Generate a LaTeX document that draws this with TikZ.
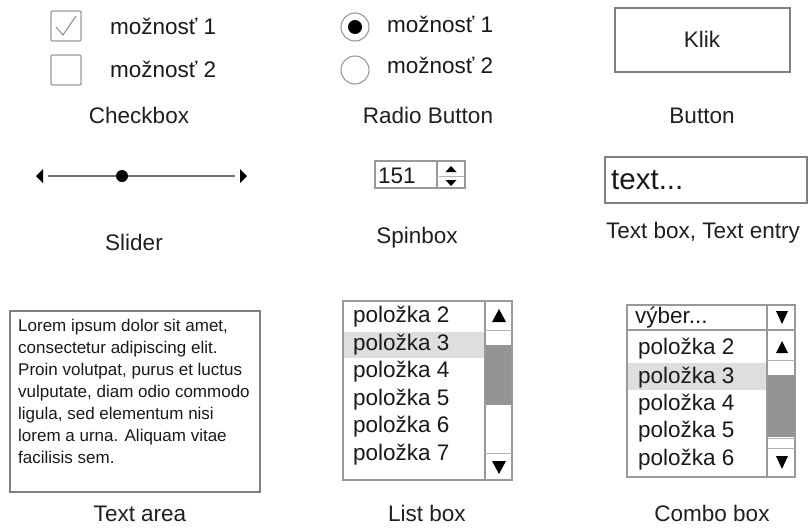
\documentclass[tikz,border=0pt]{standalone}
\usepackage{fontspec}
\setmainfont{Liberation Sans}
\begin{document}
\begin{tikzpicture}[x=1pt,y=-1pt,
  lbl/.style={inner sep=0pt, text=black!88, font=\fontsize{22.5}{25}\selectfont},
  item/.style={inner sep=0pt, text=black!90, font=\fontsize{22.5}{25}\selectfont, anchor=base west},
  frame/.style={draw=black!50, line width=1.3pt},
  lframe/.style={draw=black!40, line width=1.1pt},
  thin/.style={draw=black!30, line width=0.8pt},
  tri/.style={fill=black},
  hl/.style={fill=black!13},
  thumb/.style={fill=black!42}]
\useasboundingbox (0,0) rectangle (810,528);
% ---------- Checkbox ----------
\draw[lframe, rounded corners=1pt] (51,11) rectangle (81,41);
\draw[draw=black!45, line width=1pt] (56,27) -- (63,35) -- (76,16);
\draw[lframe, rounded corners=1pt] (51,55) rectangle (81,85);
\node[item] (cb1) at (110,34) {možnosť 1};
\node[item] (cb2) at (110,77) {možnosť 2};
\node[lbl, anchor=base] (cbl) at (139,123) {Checkbox};
% ---------- Radio ----------
\draw[lframe] (355,27) circle[radius=14pt];
\fill (355,27) circle[radius=7pt];
\draw[lframe] (355,70) circle[radius=14pt];
\node[item] (rb1) at (387,32) {možnosť 1};
\node[item] (rb2) at (387,73) {možnosť 2};
\node[lbl, anchor=base] (rbl) at (428,123) {Radio Button};
% ---------- Button ----------
\draw[frame] (615,8) rectangle (790,72);
\node[lbl, anchor=base] (klik) at (702,47) {Klik};
\node[lbl, anchor=base] (btl) at (702,123) {Button};
% ---------- Slider ----------
\draw[draw=black!55, line width=1.2pt] (48,176) -- (235,176);
\fill (122,176) circle[radius=6pt];
\fill (36,176) -- (43,169) -- (43,183) -- cycle;
\fill (247,176) -- (240,169) -- (240,183) -- cycle;
\node[lbl, anchor=base] (sll) at (134,250) {Slider};
% ---------- Spinbox ----------
\draw[lframe] (375,161) rectangle (465,188);
\draw[lframe] (437,161) -- (437,188);
\draw[thin] (439,176) -- (464,176);
\fill (451,166) -- (445.5,172) -- (456.5,172) -- cycle;
\fill (451,186) -- (445.5,180) -- (456.5,180) -- cycle;
\node[item] (spv) at (378,183) {151};
\node[lbl, anchor=base] (spl) at (417,243) {Spinbox};
% ---------- Text box ----------
\draw[frame] (605,157) rectangle (807,203);
\node[inner sep=0pt, anchor=base west, font=\fontsize{29.5}{32}\selectfont, text=black!90] (tbv) at (611,189) {text...};
\node[lbl, anchor=base] (tbl) at (703,238) {Text box, Text entry};
% ---------- Text area ----------
\draw[frame] (10,311) rectangle (260,492);
\node[inner sep=0pt, anchor=north west, align=left, font=\fontsize{17}{22}\selectfont, text=black!90] (tav) at (18,318.5)
  {Lorem ipsum dolor sit amet,\\consectetur adipiscing elit.\\Proin volutpat, purus et luctus\\vulputate, diam odio commodo\\ligula, sed elementum nisi\\lorem a urna. Aliquam vitae\\facilisis sem.};
\node[lbl, anchor=base] (tal) at (140,521) {Text area};
% ---------- List box ----------
\fill[hl] (343,332) rectangle (485,358);
\fill[thumb] (485,345) rectangle (512,405);
\draw[lframe] (343,301) rectangle (512,480);
\draw[lframe] (485,301) -- (485,480);
\draw[thin] (485,330) -- (512,330);
\draw[thin] (485,453) -- (512,453);
\fill (499,309) -- (492,322) -- (506,322) -- cycle;
\fill (499,474) -- (492,461) -- (506,461) -- cycle;
\node[item] (l2) at (353,322) {položka 2};
\node[item] (l3) at (353,350) {položka 3};
\node[item] (l4) at (353,377) {položka 4};
\node[item] (l5) at (353,405) {položka 5};
\node[item] (l6) at (353,432) {položka 6};
\node[item] (l7) at (353,460) {položka 7};
\node[lbl, anchor=base] (lbl) at (427,521) {List box};
% ---------- Combo box ----------
\fill[hl] (627,363) rectangle (767,390);
\fill[thumb] (767,375) rectangle (795,437);
\draw[lframe] (627,305) rectangle (795,477);
\draw[lframe] (627,330) -- (795,330);
\draw[lframe] (767,305) -- (767,477);
\draw[thin] (767,360) -- (795,360);
\draw[thin] (767,438) -- (795,438);
\draw[thin] (767,448) -- (795,448);
\fill (782,324) -- (776,311) -- (788,311) -- cycle;
\fill (782,341) -- (776,353) -- (788,353) -- cycle;
\fill (782,469) -- (776,456) -- (788,456) -- cycle;
\node[item] (cv) at (635,323) {výber...};
\node[item] (c2) at (638,354) {položka 2};
\node[item] (c3) at (638,383) {položka 3};
\node[item] (c4) at (638,410) {položka 4};
\node[item] (c5) at (638,437) {položka 5};
\node[item] (c6) at (638,465) {položka 6};
\node[lbl, anchor=base] (cbxl) at (712,521) {Combo box};
\end{tikzpicture}
\end{document}
